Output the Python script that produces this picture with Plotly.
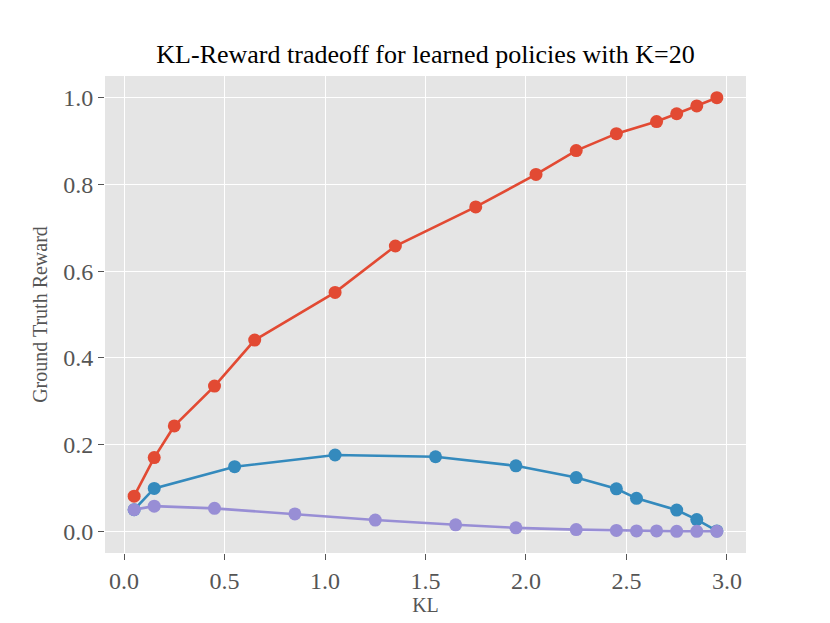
import plotly.graph_objects as go

# values
red_kl = [0.05, 0.15, 0.25, 0.45, 0.65, 1.05, 1.35, 1.75, 2.05, 2.25, 2.45, 2.65, 2.75, 2.85, 2.95]
red_reward = [0.081, 0.170, 0.243, 0.335, 0.441, 0.551, 0.658, 0.748, 0.823, 0.878, 0.917, 0.945, 0.963, 0.981, 1.0]

blue_kl = [0.05, 0.15, 0.55, 1.05, 1.55, 1.95, 2.25, 2.45, 2.55, 2.75, 2.85, 2.95]
blue_reward = [0.050, 0.099, 0.149, 0.176, 0.172, 0.151, 0.124, 0.098, 0.076, 0.049, 0.027, 0.001]

purple_kl = [0.05, 0.15, 0.45, 0.85, 1.25, 1.65, 1.95, 2.25, 2.45, 2.55, 2.65, 2.75, 2.85, 2.95]
purple_reward = [0.050, 0.058, 0.053, 0.040, 0.026, 0.015, 0.008, 0.004, 0.002, 0.001, 0.001, 0.0, 0.0, 0.0]

x_ticks = [0.0, 0.5, 1.0, 1.5, 2.0, 2.5, 3.0]
y_ticks = [0.0, 0.2, 0.4, 0.6, 0.8, 1.0]

series = [
    (red_kl, red_reward, "#E24A33"),
    (blue_kl, blue_reward, "#348ABD"),
    (purple_kl, purple_reward, "#988ED5"),
]

fig = go.Figure()
for kl, reward, col in series:
    fig.add_trace(go.Scatter(
        x=kl, y=reward, mode="lines+markers",
        line=dict(color=col, width=2.6),
        marker=dict(color=col, size=13),
        showlegend=False,
    ))

axis_style = dict(
    showgrid=True, gridcolor="white", gridwidth=1.3,
    zeroline=False, showline=False,
    ticks="outside", ticklen=6, tickwidth=1, tickcolor="#555555",
    tickfont=dict(size=24, color="#555555"),
    tickformat=".1f",
)

fig.update_xaxes(
    range=[-0.095, 3.095], tickvals=x_ticks,
    title=dict(text="KL", font=dict(size=20, color="#555555"), standoff=4),
    **axis_style,
)
fig.update_yaxes(
    range=[-0.05, 1.05], tickvals=y_ticks,
    title=dict(text="Ground Truth Reward", font=dict(size=20, color="#555555"), standoff=10),
    **axis_style,
)

# page body adds an 8px offset, so the figure is a bit smaller than the window
fig.update_layout(
    width=822, height=615,
    margin=dict(l=97, r=84, t=68, b=70),
    plot_bgcolor="#E5E5E5",
    paper_bgcolor="white",
    font=dict(family="Liberation Serif"),
    title=dict(
        text="KL-Reward tradeoff for learned policies with K=20",
        font=dict(size=26, color="black"),
        x=0.5, xref="paper", xanchor="center",
        y=1, yref="paper", yanchor="bottom", pad=dict(b=13),
    ),
)

fig.write_html("out.html")
